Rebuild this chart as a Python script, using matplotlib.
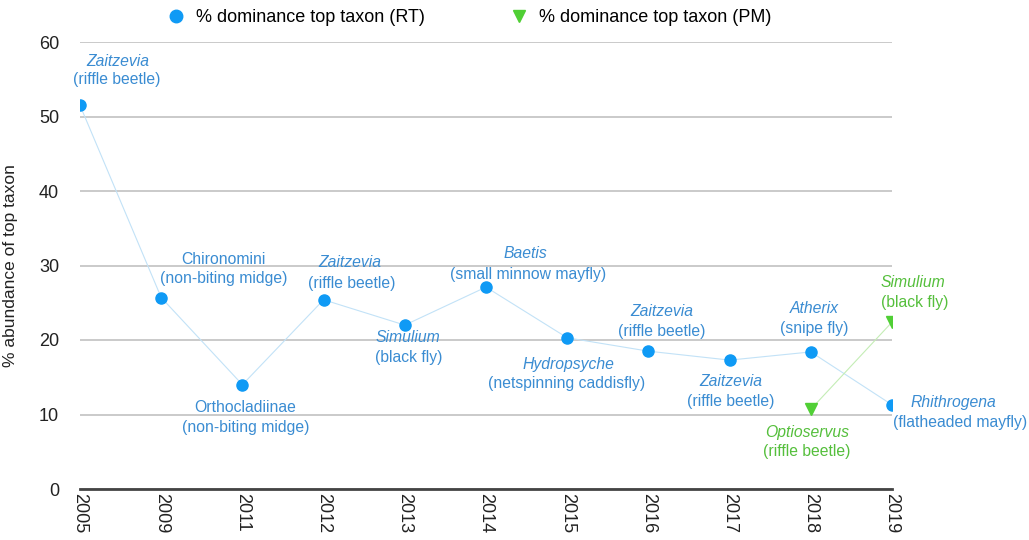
import matplotlib as mp
mp.use('Agg')
import matplotlib.pyplot as plt
from matplotlib.lines import Line2D

plt.rcParams['font.family'] = ['Liberation Sans', 'DejaVu Sans']

years = ['2005', '2009', '2011', '2012', '2013', '2014', '2015', '2016', '2017', '2018', '2019']
rt = [51.5, 25.7, 14.0, 25.4, 22.0, 27.1, 20.3, 18.5, 17.3, 18.4, 11.3]
rt_taxon = ['Zaitzevia', 'Chironomini', 'Orthocladiinae', 'Zaitzevia', 'Simulium', 'Baetis',
            'Hydropsyche', 'Zaitzevia', 'Zaitzevia', 'Atherix', 'Rhithrogena']
rt_common = ['(riffle beetle)', '(non-biting midge)', '(non-biting midge)', '(riffle beetle)',
             '(black fly)', '(small minnow mayfly)', '(netspinning caddisfly)', '(riffle beetle)',
             '(riffle beetle)', '(snipe fly)', '(flatheaded mayfly)']
rt_genus = [True, False, False, True, True, True, True, True, True, True, True]

pm_years = ['2018', '2019']
pm = [10.7, 22.4]
pm_taxon = ['Optioservus', 'Simulium']
pm_common = ['(riffle beetle)', '(black fly)']

# label offsets in pixels: (dx line1, dy line1, dx line2, dy line2)
rt_off = [(38, 44, 37, 26), (62, 38, 62, 19), (3, -23, 3, -43), (26, 37, 28, 16),
          (3, -12, 4, -32), (39, 34, 42, 13), (1, -27, -1, -46), (13, 40, 13, 20),
          (1, -21, 1, -41), (3, 43, 3, 23), (61, 2, 68, -18)]
pm_off = [(-4, -23, -4, -42), (21, 40, 23, 20)]

blue_m = '#0f9af5'
blue_t = '#3a8cd2'
green_m = '#50cf35'
green_t = '#55bf3c'

fig = plt.figure(figsize=(10.29, 5.4), dpi=100)
ax = fig.add_axes([80 / 1029, 1 - 489 / 540, 812 / 1029, 447 / 540])

x = list(range(len(years)))
xpm = [years.index(y) for y in pm_years]

ax.plot(x, rt, color='#c2e2f7', lw=0.8, zorder=2)
ax.plot(x, rt, 'o', color=blue_m, ms=8, zorder=3)
ax.plot(xpm, pm, color='#c4edb5', lw=0.8, zorder=2)
ax.plot(xpm, pm, 'v', color=green_m, ms=8.5, zorder=3)

def label(xi, yi, name, common, italic, off, col):
    ax.annotate(name, (xi, yi), xytext=(off[0], off[1]), textcoords='offset pixels',
                ha='center', va='center', fontsize=11.3, color=col,
                style='italic' if italic else 'normal', annotation_clip=False)
    ax.annotate(common, (xi, yi), xytext=(off[2], off[3]), textcoords='offset pixels',
                ha='center', va='center', fontsize=11.3, color=col, annotation_clip=False)

for i in range(len(years)):
    label(x[i], rt[i], rt_taxon[i], rt_common[i], rt_genus[i], rt_off[i], blue_t)
for i in range(len(pm_years)):
    label(xpm[i], pm[i], pm_taxon[i], pm_common[i], True, pm_off[i], green_t)

ax.set_xlim(0, len(years) - 1)
ax.set_ylim(0, 60)
ax.set_yticks(range(0, 61, 10))
ax.set_xticks(x)
ax.set_xticklabels(years, rotation=-90)
ax.tick_params(axis='both', length=0, labelsize=13, colors='#222222')
ax.tick_params(axis='y', pad=15)
ax.tick_params(axis='x', pad=3)
ax.yaxis.grid(True, color='#c6c6c6', lw=1.3)
ax.set_axisbelow(True)
for s in ['left', 'right', 'top']:
    ax.spines[s].set_visible(False)
ax.spines['bottom'].set_color('#444444')
ax.spines['bottom'].set_linewidth(2)
ax.set_ylabel('% abundance of top taxon', fontsize=12.5, color='#222222')
ax.yaxis.set_label_coords(-62 / 812, 0.5)

handles = [Line2D([], [], marker='o', color=blue_m, ls='none', ms=9),
           Line2D([], [], marker='v', color=green_m, ls='none', ms=9)]
fig.legend(handles, ['% dominance top taxon (RT)', '% dominance top taxon (PM)'],
           loc='center left', bbox_to_anchor=(142 / 1029, 1 - 18 / 540), ncol=2,
           frameon=False, fontsize=13, columnspacing=4.2, handletextpad=0.1)

fig.savefig('out.png', dpi=100)
